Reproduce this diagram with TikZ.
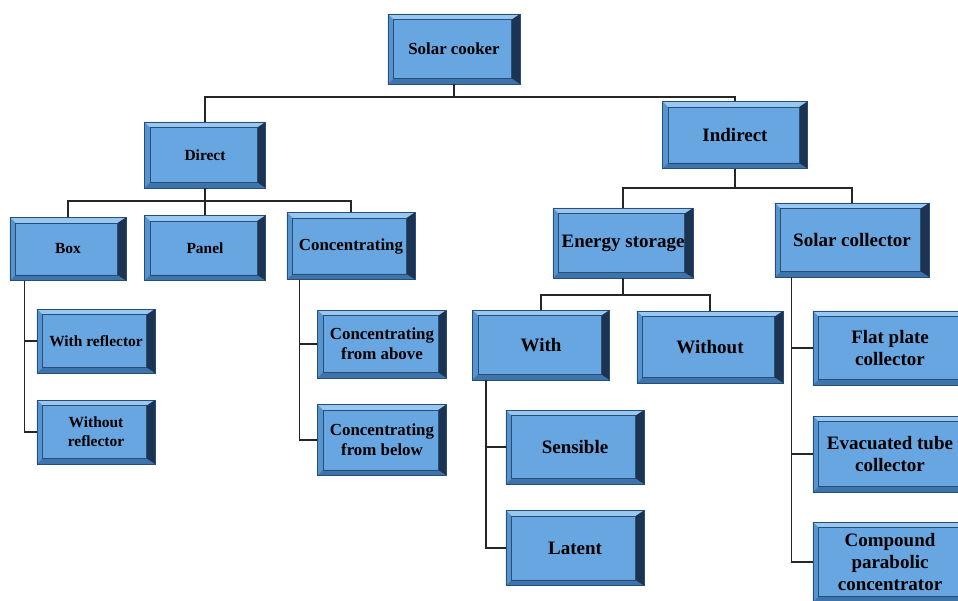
\documentclass[tikz,border=0pt]{standalone}
\usepackage{fontspec}
\setmainfont{Liberation Serif}
\usetikzlibrary{calc}

\definecolor{bvface}{RGB}{104,166,226}
\definecolor{bvtop}{RGB}{152,200,242}
\definecolor{bvleft}{RGB}{86,148,208}
\definecolor{bvbottom}{RGB}{62,116,172}
\definecolor{bvright}{RGB}{28,52,82}
\definecolor{bvline}{RGB}{40,78,118}

\tikzset{
  btn/.style={draw=bvline, line width=0.5pt, fill=bvface, align=center,
    inner sep=1pt, font=\fontsize{12}{14}\selectfont\bfseries,
    path picture={
      \coordinate (ll) at (path picture bounding box.south west);
      \coordinate (ur) at (path picture bounding box.north east);
      \coordinate (il) at ($(ll)+(4pt,4pt)$);
      \coordinate (iu) at ($(ur)+(-6pt,-4pt)$);
      \fill[bvtop] (ll|-ur) -- (ur) -- (iu) -- (il|-iu) -- cycle;
      \fill[bvleft] (ll) -- (ll|-ur) -- (il|-iu) -- (il) -- cycle;
      \fill[bvbottom] (ll) -- (ur|-ll) -- (iu|-il) -- (il) -- cycle;
      \fill[bvright] (ur) -- (ur|-ll) -- (iu|-il) -- (iu) -- cycle;
      \draw[bvline, line width=0.4pt] (il) rectangle (iu);
    }},
  sm/.style={font=\fontsize{11}{13.5}\selectfont\bfseries},
  lg/.style={font=\fontsize{13.5}{15.5}\selectfont\bfseries},
  link/.style={draw=black!85, line width=0.8pt}
}

\begin{document}
\begin{tikzpicture}[x=0.025cm, y=-0.025cm]
  \clip (0,0) rectangle (958,600);
  \fill[white] (0,0) rectangle (958,600);

  % top levels
  \node[btn, minimum width=3.3cm, minimum height=1.75cm] (sc) at (454,49) {Solar cooker};
  \node[btn, sm, minimum width=3.03cm, minimum height=1.65cm] (direct) at (205,155) {Direct};
  \node[btn, lg, minimum width=3.63cm, minimum height=1.68cm] (indirect) at (735,135) {Indirect};

  % direct branch
  \node[btn, sm, minimum width=2.9cm, minimum height=1.58cm] (box) at (68,249) {Box};
  \node[btn, sm, minimum width=3.03cm, minimum height=1.63cm] (panel) at (205,248) {Panel};
  \node[btn, minimum width=3.2cm, minimum height=1.68cm] (conc) at (351,246) {Concentrating};
  \node[btn, sm, minimum width=2.95cm, minimum height=1.6cm] (wref) at (96,341) {With reflector};
  \node[btn, sm, minimum width=2.95cm, minimum height=1.6cm] (woref) at (96,432) {Without\\reflector};
  \node[btn, minimum width=3.23cm, minimum height=1.7cm] (cabove) at (382,344) {Concentrating\\from above};
  \node[btn, minimum width=3.23cm, minimum height=1.78cm] (cbelow) at (382,440) {Concentrating\\from below};

  % indirect branch
  \node[btn, lg, minimum width=3.5cm, minimum height=1.75cm] (estor) at (623,243) {Energy storage};
  \node[btn, lg, minimum width=3.85cm, minimum height=1.85cm] (scoll) at (852,240) {Solar collector};
  \node[btn, lg, minimum width=3.43cm, minimum height=1.75cm] (with) at (541,345) {With};
  \node[btn, lg, minimum width=3.65cm, minimum height=1.8cm] (without) at (710,347) {Without};
  \node[btn, lg, minimum width=3.45cm, minimum height=1.85cm] (sens) at (575,447) {Sensible};
  \node[btn, lg, minimum width=3.45cm, minimum height=1.88cm] (latent) at (575,548) {Latent};
  \node[btn, lg, minimum width=3.85cm, minimum height=1.85cm] (flat) at (890,348) {Flat plate\\collector};
  \node[btn, lg, minimum width=3.85cm, minimum height=1.9cm] (evac) at (890,454) {Evacuated tube\\collector};
  \node[btn, lg, minimum width=3.85cm, minimum height=2.0cm] (cpc) at (890,562) {Compound\\parabolic\\concentrator};

  % buses
  \coordinate (b1) at (454,97);
  \coordinate (b2) at (205,201);
  \coordinate (b3) at (735,188);
  \coordinate (b4) at (623,295);

  \draw[link] (sc.south) -- (b1);
  \draw[link] (direct.north) |- (b1) -| (indirect.north);
  \draw[link] (direct.south) -- (panel.north);
  \draw[link] (box.north) |- (b2) -| (conc.north);
  \draw[link] (indirect.south) -- (b3);
  \draw[link] (estor.north) |- (b3) -| (scoll.north);
  \draw[link] (estor.south) -- (b4);
  \draw[link] (with.north) |- (b4) -| (without.north);

  % side trunks
  \draw[link] ([xshift=0.38cm]box.south west) |- (wref.west);
  \draw[link] ([xshift=0.38cm]box.south west) |- (woref.west);
  \draw[link] ([xshift=0.33cm]conc.south west) |- (cabove.west);
  \draw[link] ([xshift=0.33cm]conc.south west) |- (cbelow.west);
  \draw[link] ([xshift=0.35cm]with.south west) |- (sens.west);
  \draw[link] ([xshift=0.35cm]with.south west) |- (latent.west);
  \draw[link] ([xshift=0.42cm]scoll.south west) |- (flat.west);
  \draw[link] ([xshift=0.42cm]scoll.south west) |- (evac.west);
  \draw[link] ([xshift=0.42cm]scoll.south west) |- (cpc.west);
\end{tikzpicture}
\end{document}
